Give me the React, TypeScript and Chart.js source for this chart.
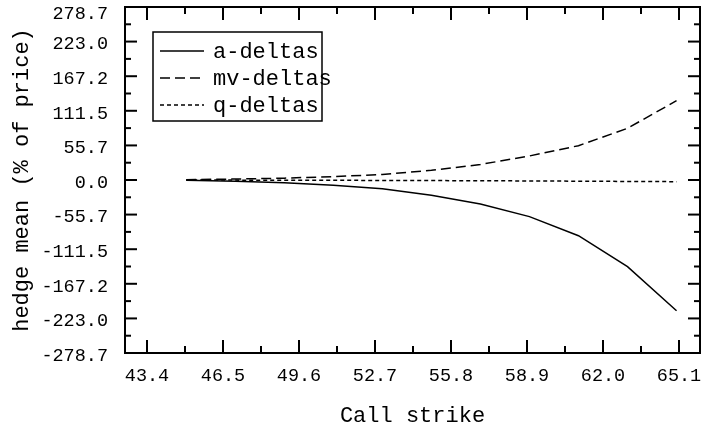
import React, { useEffect, useRef } from "react";
import { Chart, registerables } from "chart.js";

Chart.register(...registerables);

const strikes = [45, 47, 49, 51, 53, 55, 57, 59, 61, 63, 65];
const aDeltas = [-0.5, -2, -4.3, -8.5, -14, -24.5, -38.7, -59, -89.7, -139.6, -210.6];
const mvDeltas = [0.5, 1.5, 3, 5.5, 8.8, 15.6, 25, 38.7, 55.3, 83.3, 127.8];
const qDeltas = [0, -0.2, -0.3, -0.5, -0.7, -0.9, -1.2, -1.5, -1.9, -2.3, -2.7];

const xTicks = [43.4, 46.5, 49.6, 52.7, 55.8, 58.9, 62.0, 65.1];
const yTicks = [-278.7, -223.0, -167.2, -111.5, -55.7, 0, 55.7, 111.5, 167.2, 223.0, 278.7];

const seriesLabels = ["a-deltas", "mv-deltas", "q-deltas"];
const seriesDashes: number[][] = [[], [10, 5], [4, 3]];

const FONT = "'Liberation Mono', 'DejaVu Sans Mono', monospace";

const framePlugin = {
  id: "frameTicksLegend",
  afterDraw(chart: any) {
    const { ctx, chartArea, scales } = chart;
    const { left, right, top, bottom } = chartArea;
    const x = scales.x;
    const y = scales.y;
    ctx.save();
    ctx.strokeStyle = "#000";
    ctx.lineWidth = 2;
    ctx.setLineDash([]);
    ctx.strokeRect(left, top, right - left, bottom - top);

    const line = (x1: number, y1: number, x2: number, y2: number) => {
      ctx.beginPath();
      ctx.moveTo(x1, y1);
      ctx.lineTo(x2, y2);
      ctx.stroke();
    };

    // x ticks (inward, top & bottom)
    xTicks.forEach((v, i) => {
      const px = x.getPixelForValue(v);
      line(px, bottom, px, bottom - 13);
      line(px, top, px, top + 13);
      if (i < xTicks.length - 1) {
        const mx = x.getPixelForValue((v + xTicks[i + 1]) / 2);
        line(mx, bottom, mx, bottom - 7);
        line(mx, top, mx, top + 7);
      }
    });

    // y ticks (inward, left & right)
    yTicks.forEach((v, i) => {
      const py = y.getPixelForValue(v);
      line(left, py, left + 12, py);
      line(right, py, right - 12, py);
      if (i < yTicks.length - 1) {
        const my = y.getPixelForValue((v + yTicks[i + 1]) / 2);
        line(left, my, left + 6, my);
        line(right, my, right - 6, my);
      }
    });

    // y tick labels
    ctx.fillStyle = "#000";
    ctx.font = `18.5px ${FONT}`;
    ctx.textAlign = "right";
    ctx.textBaseline = "middle";
    yTicks.forEach((v) => {
      const py = y.getPixelForValue(v);
      ctx.fillText(v.toFixed(1), left - 17, Math.max(py + 3, 14));
    });

    // legend box
    const bx = 153, by = 32, bw = 169, bh = 89;
    ctx.lineWidth = 1.5;
    ctx.strokeRect(bx, by, bw, bh);
    ctx.font = `22px ${FONT}`;
    ctx.textAlign = "left";
    chart.data.datasets.forEach((ds: any, i: number) => {
      const ly = 51 + i * 27;
      ctx.setLineDash(ds.borderDash || []);
      ctx.lineWidth = 1.5;
      line(160, ly, 204, ly);
      ctx.setLineDash([]);
      ctx.fillText(ds.label, 213, ly + 1);
    });
    ctx.restore();
  },
};

export default function App() {
  const ref = useRef<HTMLCanvasElement | null>(null);

  useEffect(() => {
    document.body.style.margin = "0";
    const canvas = ref.current;
    if (!canvas) return;
    const series = [aDeltas, mvDeltas, qDeltas];
    const chart = new Chart(canvas, {
      type: "line",
      data: {
        datasets: series.map((vals, i) => ({
          label: seriesLabels[i],
          data: strikes.map((s, j) => ({ x: s, y: vals[j] })),
          borderColor: "#000",
          backgroundColor: "#000",
          borderWidth: 1.5,
          borderDash: seriesDashes[i],
          pointRadius: 0,
          fill: false,
          tension: 0,
        })),
      },
      options: {
        animation: false,
        responsive: false,
        layout: { padding: { left: 0, right: 1, top: 7, bottom: 0 } },
        plugins: { legend: { display: false }, tooltip: { enabled: false } },
        scales: {
          x: {
            type: "linear",
            min: 42.503,
            max: 65.957,
            grid: { display: false },
            border: { display: false },
            afterBuildTicks: (s: any) => {
              s.ticks = xTicks.map((v) => ({ value: v }));
            },
            ticks: {
              autoSkip: false,
              maxRotation: 0,
              padding: 4,
              color: "#000",
              font: { family: FONT, size: 18.5 },
              callback: (v: any) => Number(v).toFixed(1),
            },
            title: {
              display: true,
              text: "Call strike",
              color: "#000",
              font: { family: FONT, size: 22, lineHeight: 1 },
              padding: { top: 0, bottom: 0 },
            },
            afterFit: (s: any) => {
              s.height = 74;
              s.paddingLeft = 0;
              s.paddingRight = 0;
            },
          },
          y: {
            type: "linear",
            min: -278.7,
            max: 278.7,
            grid: { display: false },
            border: { display: false },
            afterBuildTicks: (s: any) => {
              s.ticks = yTicks.map((v) => ({ value: v }));
            },
            ticks: { display: false },
            title: {
              display: true,
              text: "hedge mean (% of price)",
              color: "#000",
              font: { family: FONT, size: 22, lineHeight: 1 },
              padding: { top: 11, bottom: 0 },
            },
            afterFit: (s: any) => {
              s.width = 125;
              s.paddingTop = 0;
              s.paddingBottom = 0;
            },
          },
        },
      },
      plugins: [framePlugin],
    } as any);
    return () => chart.destroy();
  }, []);

  return (
    <div style={{ width: 701, height: 427 }}>
      <canvas ref={ref} width={701} height={427} />
    </div>
  );
}
